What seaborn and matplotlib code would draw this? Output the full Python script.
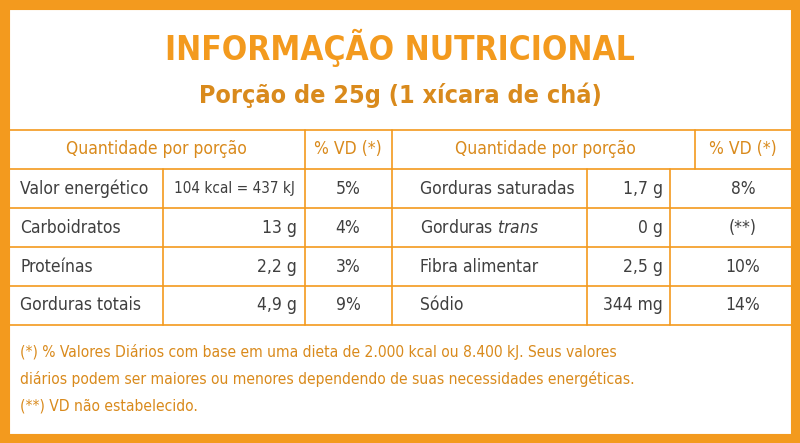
import matplotlib
matplotlib.use('Agg')
import matplotlib.pyplot as plt
import seaborn as sns

sns.set_style('white')
plt.rcParams['font.family'] = ['DejaVu Sans']
plt.rcParams['font.stretch'] = 'condensed'

ORANGE = '#F39A1E'
TEXT = '#3f3f3f'
BROWN = '#D98A1C'

title = 'INFORMAÇÃO NUTRICIONAL'
subtitle = 'Porção de 25g (1 xícara de chá)'
header_q = 'Quantidade por porção'
header_vd = '% VD (*)'

left_names = ['Valor energético', 'Carboidratos', 'Proteínas', 'Gorduras totais']
left_amounts = ['104 kcal = 437 kJ', '13 g', '2,2 g', '4,9 g']
left_vd = ['5%', '4%', '3%', '9%']
right_names = ['Gorduras saturadas', 'Gorduras $\\it{trans}$', 'Fibra alimentar', 'Sódio']
right_amounts = ['1,7 g', '0 g', '2,5 g', '344 mg']
right_vd = ['8%', '(**)', '10%', '14%']
footnote = ['(*) % Valores Diários com base em uma dieta de 2.000 kcal ou 8.400 kJ. Seus valores',
            'diários podem ser maiores ou menores dependendo de suas necessidades energéticas.',
            '(**) VD não estabelecido.']

fig = plt.figure(figsize=(8, 4.43), dpi=100)
ax = fig.add_axes([0, 0, 1, 1])
ax.set_xlim(0, 800)
ax.set_ylim(443, 0)
ax.axis('off')

ax.add_patch(plt.Rectangle((4, 4), 792, 435, fill=False, ec=ORANGE, lw=8))

ax.text(400, 48, title, ha='center', va='center', color=ORANGE, fontsize=24, fontweight='bold')
ax.text(400, 95, subtitle, ha='center', va='center', color=BROWN, fontsize=18, fontweight='bold')

rows_y = [130, 169, 208, 247, 286, 325]
for y in rows_y:
    ax.plot([8, 792], [y, y], color=ORANGE, lw=1.2)
for x in [305, 392]:
    ax.plot([x, x], [130, 325], color=ORANGE, lw=1.2)
ax.plot([695, 695], [130, 169], color=ORANGE, lw=1.2)
for x in [163, 587, 670]:
    ax.plot([x, x], [169, 325], color=ORANGE, lw=1.2)

hy = (rows_y[0] + rows_y[1]) / 2
fs = 12.5
ax.text(156, hy, header_q, ha='center', va='center', color=BROWN, fontsize=fs)
ax.text(348, hy, header_vd, ha='center', va='center', color=BROWN, fontsize=fs)
ax.text(545, hy, header_q, ha='center', va='center', color=BROWN, fontsize=fs)
ax.text(743, hy, header_vd, ha='center', va='center', color=BROWN, fontsize=fs)

for i in range(4):
    y = (rows_y[i + 1] + rows_y[i + 2]) / 2
    ax.text(20, y, left_names[i], ha='left', va='center', color=TEXT, fontsize=fs)
    if i == 0:
        ax.text(234, y, left_amounts[i], ha='center', va='center', color=TEXT, fontsize=11)
    else:
        ax.text(297, y, left_amounts[i], ha='right', va='center', color=TEXT, fontsize=fs)
    ax.text(348, y, left_vd[i], ha='center', va='center', color=TEXT, fontsize=fs)
    ax.text(420, y, right_names[i], ha='left', va='center', color=TEXT, fontsize=fs)
    ax.text(663, y, right_amounts[i], ha='right', va='center', color=TEXT, fontsize=fs)
    ax.text(743, y, right_vd[i], ha='center', va='center', color=TEXT, fontsize=fs)

for i, line in enumerate(footnote):
    ax.text(20, 352 + i * 27, line, ha='left', va='center', color=BROWN, fontsize=11.2)

fig.savefig('out.png', dpi=100)
